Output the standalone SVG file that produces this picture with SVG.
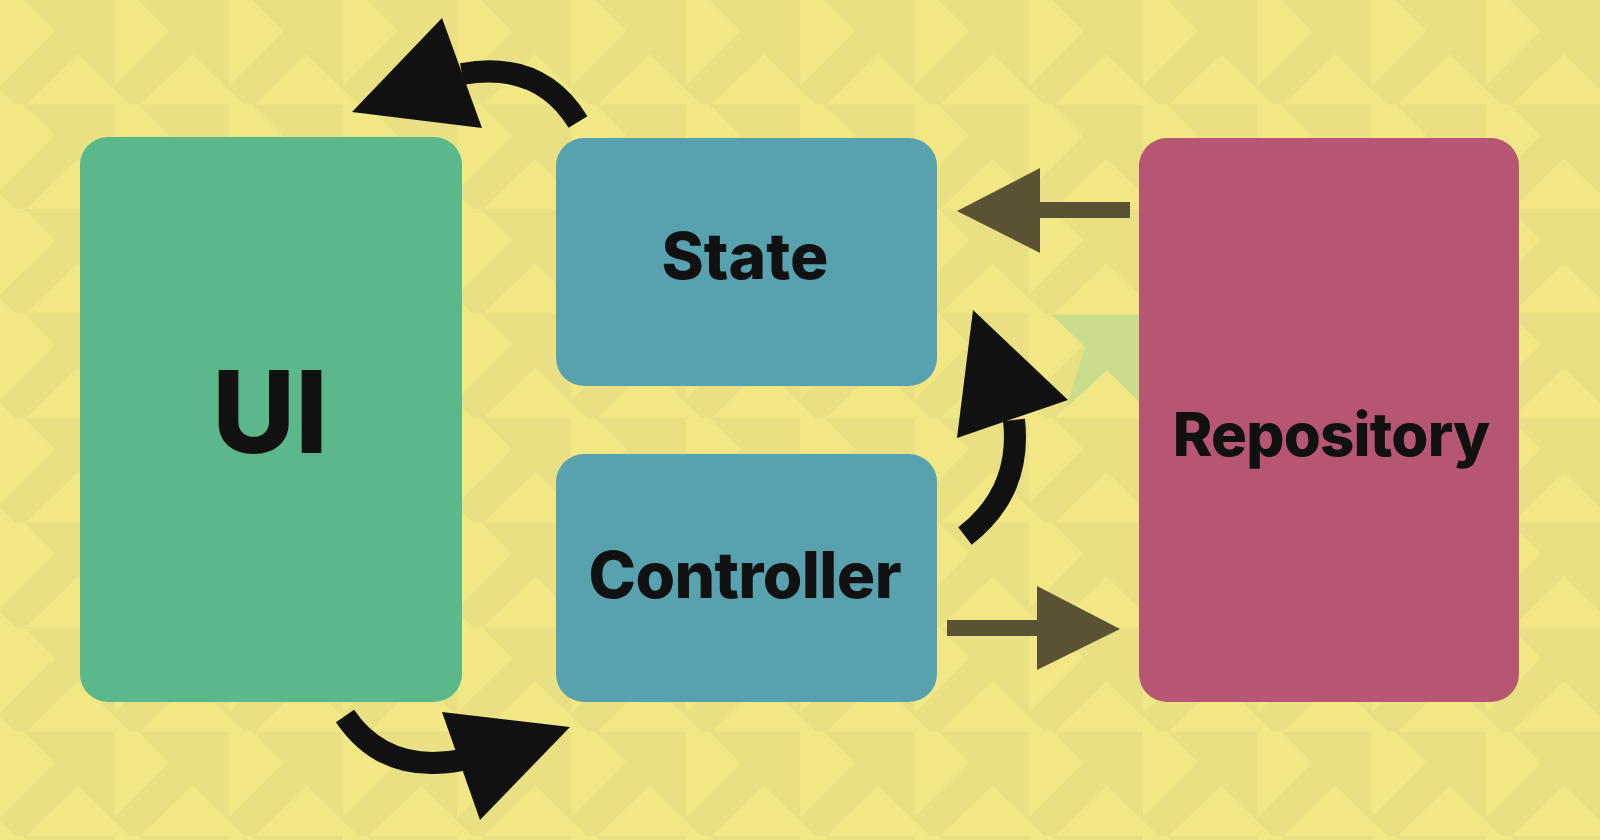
<svg xmlns="http://www.w3.org/2000/svg" width="1600" height="840" viewBox="0 0 1600 840">
  <style>
    .lbl { font-family: Inter, "Open Sans", "Liberation Sans", sans-serif; font-weight: 800; fill: #111111; text-anchor: middle; }
    .shaft { fill: none; stroke: #111111; stroke-width: 22; stroke-linecap: butt; }
    .head { fill: #111111; }
    .oshaft { fill: none; stroke: #5b5233; stroke-width: 16; }
    .ohead { fill: #5b5233; }
  </style>
  <defs>
    <pattern id="bgpat" x="0" y="0" width="114.3" height="104.5" patternUnits="userSpaceOnUse">
      <rect width="114.3" height="104.5" fill="#e8e082"/>
      <polygon points="0,0 24,0 55,31 0,86" fill="#f1e785"/>
      <polygon points="26,104.5 78,54 130,104.5" fill="#f1e785"/>
      <polygon points="-88.3,104.5 -36.3,54 15.7,104.5" fill="#f1e785"/>
    </pattern>
  </defs>
  <rect width="1600" height="840" fill="url(#bgpat)"/>
  <polygon points="1052,315 1139,315 1139,402 1107,370 1066,408 1085,347" fill="#cadd8c"/>

  <g id="ui">
    <rect x="80" y="137" width="382" height="565" rx="28" fill="#5ab88b"/>
    <text class="lbl" x="270" y="453" font-size="114">UI</text>
  </g>
  <g id="state">
    <rect x="556" y="138" width="381" height="248" rx="28" fill="#58a2b0"/>
    <text class="lbl" x="745" y="279" font-size="64">State</text>
  </g>
  <g id="controller">
    <rect x="556" y="454" width="381" height="248" rx="28" fill="#58a2b0"/>
    <text class="lbl" x="745" y="598" font-size="64" textLength="313" lengthAdjust="spacing">Controller</text>
  </g>
  <g id="repository">
    <rect x="1139" y="138" width="380" height="564" rx="28" fill="#b65672"/>
    <text class="lbl" x="1331" y="456" font-size="60" letter-spacing="-0.8">Repository</text>
  </g>

  <g id="connectors">
    <path class="shaft" d="M578,122 Q540,60 462,74"/>
    <polygon class="head" points="352,112 442,18 482,128"/>
    <path class="shaft" d="M345,716 Q385,775 462,760"/>
    <polygon class="head" points="442,712 570,727 480,820"/>
    <path class="shaft" d="M965,536 Q1022,492 1014,420"/>
    <polygon class="head" points="973,310 1068,400 957,438"/>
    <path class="oshaft" d="M1130,210 L1038,210"/>
    <polygon class="ohead" points="957,211 1040,168 1040,253"/>
    <path class="oshaft" d="M947,628 L1040,628"/>
    <polygon class="ohead" points="1037,586 1120,629 1037,670"/>
  </g>
</svg>
